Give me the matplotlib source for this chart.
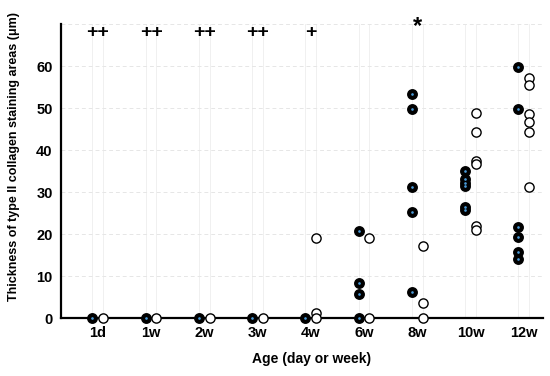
import numpy as np
import matplotlib
matplotlib.use("Agg")
import matplotlib.pyplot as plt

plt.rcParams["font.family"] = ["Liberation Sans", "DejaVu Sans"]
plt.rcParams["font.weight"] = "bold"

ages = ["1d", "1w", "2w", "3w", "4w", "6w", "8w", "10w", "12w"]

# filled circles (left of each tick)
black_vals = [
    [0], [0], [0], [0], [0],
    [20.8, 8.4, 5.7, 0],
    [53.4, 49.8, 31.1, 25.2, 6.2],
    [35.1, 33.2, 32.1, 31.4, 26.4, 25.7],
    [59.8, 49.8, 21.7, 19.4, 15.8, 14.1],
]
# open circles (right of each tick)
white_vals = [
    [0], [0], [0], [0],
    [19.0, 1.1, 0],
    [19.1, 0],
    [17.1, 3.5, 0],
    [48.9, 44.3, 37.3, 36.6, 21.9, 21.0],
    [57.1, 55.6, 48.6, 46.8, 44.4, 31.1],
]
marks = ["++", "++", "++", "++", "+", "", "*", "", ""]

fig = plt.figure(figsize=(5.5, 3.76), dpi=100)
ax = fig.add_axes([0.111, 0.154, 0.876, 0.782])

off = 0.1
for i, (b, w) in enumerate(zip(black_vals, white_vals)):
    ax.scatter([i - off] * len(b), b, s=44, c="black", edgecolors="black",
               linewidths=1.2, zorder=4, clip_on=False)
    ax.scatter([i - off] * len(b), b, s=0.8, c="#4a9ad8", zorder=5, clip_on=False)
    ax.scatter([i + off] * len(w), w, s=44, c="white", edgecolors="black",
               linewidths=1.0, zorder=4, clip_on=False)
    ax.axvline(i - off, color="#eeeeee", lw=0.6, zorder=0)
    ax.axvline(i + off, color="#eeeeee", lw=0.6, zorder=0)
    if marks[i]:
        ypos = 69.3 if marks[i] == "*" else 67.9
        fs = 17 if marks[i] == "*" else 14
        ax.text(i, ypos, marks[i], ha="center", va="center", fontsize=fs,
                fontweight="bold")

for yv in range(10, 80, 10):
    ax.axhline(yv, color="#e6e6e6", lw=0.7, ls=(0, (4, 3)), zorder=0)

ax.set_xlim(-0.69, 8.36)
ax.set_ylim(0, 70)
ax.set_xticks(range(len(ages)))
ax.set_xticklabels(ages)
ax.set_yticks(range(0, 70, 10))
ax.tick_params(length=0, labelsize=10.5, pad=6)
for lab in ax.get_xticklabels() + ax.get_yticklabels():
    lab.set_fontweight("bold")

for s in ["top", "right"]:
    ax.spines[s].set_visible(False)
for s in ["left", "bottom"]:
    ax.spines[s].set_linewidth(1.6)

ax.set_xlabel("Age (day or week)", fontsize=10, fontweight="bold")
ax.xaxis.set_label_coords(0.52, -0.115)
ax.set_ylabel("Thickness of type II collagen staining areas (\u03bcm)",
              fontsize=9, fontweight="bold")
ax.yaxis.set_label_coords(-0.085, 0.548)

fig.savefig("out.png", dpi=100)
